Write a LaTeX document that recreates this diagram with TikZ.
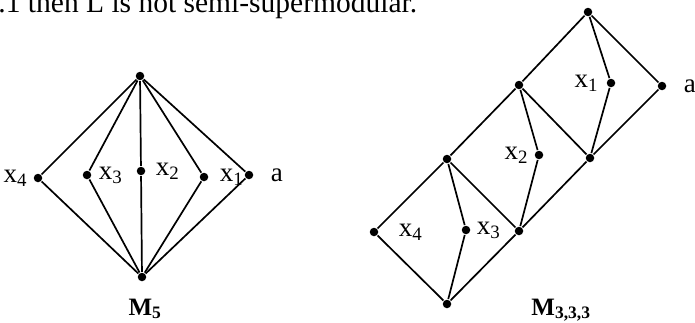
\documentclass[tikz,border=0pt]{standalone}
\usepackage{fontspec}
\setmainfont{Liberation Serif}
\usetikzlibrary{positioning}

\begin{document}
\begin{tikzpicture}[x=1pt,y=-1pt,line width=1.7pt,
    vdot/.style={circle,fill=black,inner sep=0pt,minimum size=8.5pt},
    vlbl/.style={inner sep=0pt,font=\fontsize{27}{30}\selectfont},
    lname/.style={inner sep=0pt,anchor=base,font=\fontsize{25}{28}\selectfont\bfseries}]
  \useasboundingbox (0,0) rectangle (695,322);
  \clip (0,0) rectangle (695,322);
  \node[anchor=base east,inner sep=0pt,font=\fontsize{29.5}{32}\selectfont] (head) at (418,12)
    {.1 then L is not semi-supermodular.};

  % M5
  \node[vdot] (t5) at (140,76) {};
  \node[vdot] (b5) at (142,277) {};
  \node[vdot] (m4) at (38,178) {};
  \node[vdot] (m3) at (87,175) {};
  \node[vdot] (m2) at (141,171) {};
  \node[vdot] (m1) at (204,177) {};
  \node[vdot] (ma) at (249,175) {};
  \foreach \v in {m4,m3,m2,m1,ma} \draw (t5) -- (\v) -- (b5);
  \node[vlbl,left=5pt of m4]  (l4) {x\textsubscript{4}};
  \node[vlbl,right=6pt of m3] (l3) {x\textsubscript{3}};
  \node[vlbl,right=9pt of m2] (l2) {x\textsubscript{2}};
  \node[vlbl,right=10pt of m1] (l1) {x\textsubscript{1}};
  \node[vlbl,right=16pt of ma] (la) {a};
  \node[lname] (n5) at (145,315) {M\textsubscript{5}};

  % M3,3,3
  \node[vdot] (r0) at (588,12) {};
  \node[vdot] (rb) at (519,85) {};
  \node[vdot] (r1) at (611,83) {};
  \node[vdot] (ra) at (662,86) {};
  \node[vdot] (rc) at (590,158) {};
  \node[vdot] (r2) at (539,155) {};
  \node[vdot] (rd) at (447,159) {};
  \node[vdot] (re) at (519,231) {};
  \node[vdot] (r3) at (466,230) {};
  \node[vdot] (r4) at (374,232) {};
  \node[vdot] (rz) at (447,304) {};
  \draw (r0) -- (rb) -- (rd) -- (r4) -- (rz) -- (re) -- (rc) -- (ra) -- (r0);
  \draw (r0) -- (r1) -- (rc);
  \draw (rb) -- (rc);
  \draw (rb) -- (r2) -- (re);
  \draw (rd) -- (re);
  \draw (rd) -- (r3) -- (rz);
  \node[vlbl,left=7pt of r1]   (k1) {x\textsubscript{1}};
  \node[vlbl,right=16pt of ra] (ka) {a};
  \node[vlbl,left=5pt of r2]   (k2) {x\textsubscript{2}};
  \node[vlbl,right=19pt of r4] (k4) {x\textsubscript{4}};
  \node[vlbl,right=5pt of r3]  (k3) {x\textsubscript{3}};
  \node[lname] (n333) at (561,315) {M\textsubscript{3,3,3}};
\end{tikzpicture}
\end{document}
